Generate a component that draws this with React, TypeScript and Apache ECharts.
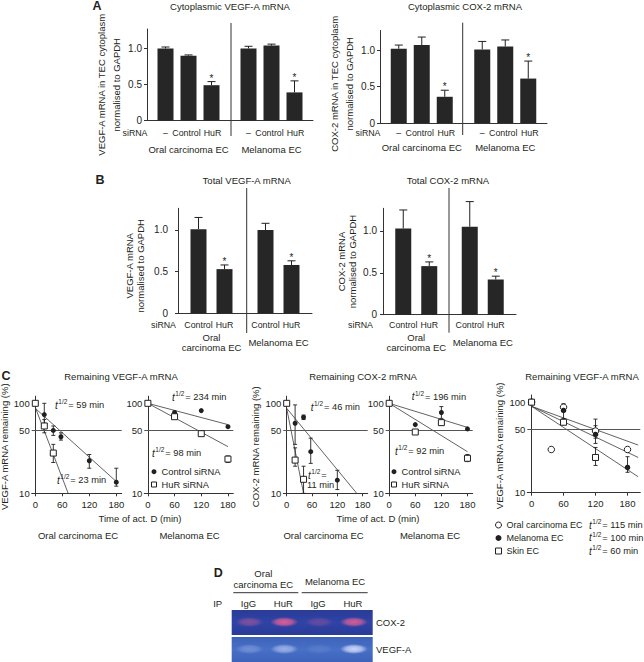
import React, { useEffect, useRef } from 'react';
import * as echarts from 'echarts';

const FONT = '"Liberation Sans", Arial, Helvetica, sans-serif';
const INK = '#231f20';
const AXIS = '#333333';
const BAR = '#262626';

// ---------- Panel A: cytoplasmic mRNA (siRNA condition x cell type)
const aGroups = ['Oral carcinoma EC', 'Melanoma EC'];
const aConditions = ['–', 'Control', 'HuR'];
const aVegfMean = [[1.0, 1.0], [0.9, 1.04], [0.49, 0.39]];
const aVegfErr = [[0.02, 0.03], [0.01, 0.02], [0.05, 0.16]];
const aCoxMean = [[1.02, 1.01], [1.07, 1.05], [0.36, 0.61]];
const aCoxErr = [[0.05, 0.11], [0.11, 0.09], [0.09, 0.24]];
const aStar = [[0, 0], [0, 0], [1, 1]];
const barTicks = [0, 0.5, 1.0];

// ---------- Panel B: total mRNA
const bGroups = ['Oral\ncarcinoma EC', 'Melanoma EC'];
const bConditions = ['Control', 'HuR'];
const bVegfMean = [[1.01, 1.0], [0.53, 0.58]];
const bVegfErr = [[0.14, 0.08], [0.05, 0.05]];
const bCoxMean = [[1.03, 1.05], [0.58, 0.42]];
const bCoxErr = [[0.22, 0.3], [0.05, 0.04]];
const bStar = [[0, 0], [1, 1]];

// ---------- Panel C: decay curves, [time (min), % remaining, lower, upper]
const timeTicks = [0, 60, 120, 180];
const pctTicks = [10, 50, 100];

const vegfOralControl = [[0, 100], [20, 75, 60, 100], [40, 50, 44, 56], [57, 42.5, 39, 47], [120, 23, 19, 27], [180, 13.3, 12, 19]];
const vegfOralHuR = [[0, 100], [20, 56, 47, 66], [40, 28, 22, 35]];
const vegfOralControlFit = [[0, 88], [180, 13.5]];
const vegfOralHuRFit = [[0, 90], [73, 10]];
const vegfOralHalfLife = ['59', '23'];

const vegfMelControl = [[0, 100], [60, 79], [120, 83], [180, 55]];
const vegfMelHuR = [[0, 100], [60, 71], [120, 46], [180, 24, 22, 26]];
const vegfMelControlFit = [[0, 100], [180, 58]];
const vegfMelHuRFit = [[0, 100], [180, 33]];
const vegfMelHalfLife = ['234', '98'];

const coxOralControl = [[0, 100], [20, 60, 35, 96], [40, 70, 66, 74], [57, 29, 21.5, 41], [120, 14, 11, 18]];
const coxOralHuR = [[0, 100], [20, 23.4, 20, 32], [40, 14.3, 10, 20]];
const coxOralControlFit = [[0, 88], [166, 10]];
const coxOralHuRFit = [[0, 88], [40, 10]];
const coxOralHalfLife = ['46', '11'];

const coxMelControl = [[0, 100], [60, 58], [120, 79, 68, 92], [180, 52]];
const coxMelHuR = [[0, 100], [60, 48], [120, 61], [180, 24.5, 22.5, 27]];
const coxMelControlFit = [[0, 100], [180, 54]];
const coxMelHuRFit = [[0, 100], [180, 29]];
const coxMelHalfLife = ['196', '92'];

const ecNames = ['Oral carcinoma EC', 'Melanoma EC', 'Skin EC'];
const ecOral = [[0, 100], [37, 30], [60, 88, 80, 96], [120, 48, 40, 65], [180, 30]];
const ecMel = [[0, 100], [60, 81, 66, 90], [120, 44, 35, 55], [180, 19, 16.8, 25]];
const ecSkin = [[0, 100], [60, 60], [120, 24.5, 20, 31.6]];
const ecOralFit = [[0, 90], [200, 33.6]];
const ecMelFit = [[0, 90], [200, 24.5]];
const ecSkinFit = [[0, 90], [200, 15]];
const ecHalfLife = ['115', '100', '60'];

// ---------- Panel D: RNA-IP gel
const gelLanes = ['IgG', 'HuR', 'IgG', 'HuR'];
const gelTargets = ['COX-2', 'VEGF-A'];
const cox2BandStrength = [0.45, 0.95, 0.3, 0.9];
const vegfBandStrength = [0.3, 0.6, 0.12, 0.95];

function buildOption() {
  const grid: any[] = [];
  const xAxis: any[] = [];
  const yAxis: any[] = [];
  const series: any[] = [];
  const G: any[] = [];

  const lblStyle = { fontFamily: FONT, color: INK };
  const mkGrid = (p: any) => ({ left: p.left, top: p.top, width: p.width, height: p.height, containLabel: false, outerBoundsMode: 'none' });

  function addBarPanel(p: any) {
    const idx = grid.length;
    grid.push(mkGrid(p));
    xAxis.push({
      type: 'category', gridIndex: idx, data: p.groups,
      axisLine: { lineStyle: { color: AXIS, width: 1 } },
      axisTick: { show: false },
      axisLabel: { ...lblStyle, interval: 0, fontSize: 9.5, margin: p.groupMargin, verticalAlign: 'middle', lineHeight: 10.5 },
    });
    yAxis.push({
      type: 'value', gridIndex: idx, min: 0, max: p.max,
      axisLine: { show: true, lineStyle: { color: AXIS, width: 1 } },
      axisTick: { show: true, length: 3, customValues: barTicks, lineStyle: { color: AXIS } },
      splitLine: { show: false },
      axisLabel: { ...lblStyle, fontSize: 10, margin: p.labelMargin, customValues: barTicks, formatter: (v: number) => (v === 0 ? '0' : v.toFixed(1)) },
      name: p.yName, nameLocation: 'middle', nameRotate: 90, nameGap: p.nameGap,
      nameTextStyle: { ...lblStyle, fontSize: 9.5, lineHeight: p.nameLH, padding: [0, p.nameShift || 0, 0, 0] },
    });
    const n = p.conds.length;
    p.conds.forEach((c: string, k: number) => {
      const dx = (k - (n - 1) / 2) * p.pitch;
      series.push({
        type: 'bar', name: c, xAxisIndex: idx, yAxisIndex: idx, silent: true,
        data: p.means[k], barWidth: 16, barGap: p.barGap,
        itemStyle: { color: BAR },
        label: {
          show: true, position: 'bottom', distance: p.condDist, formatter: c, ...lblStyle,
          fontSize: 8.8, lineHeight: 12, offset: [(p.condShift && p.condShift[k]) || 0, 0],
        },
      });
      series.push({
        type: 'custom', xAxisIndex: idx, yAxisIndex: idx, z: 4, silent: true, clip: false,
        itemStyle: { color: INK },
        encode: { x: 0, y: 1 },
        data: p.means[k].map((m: number, g: number) => [g, m, p.errs[k][g]]),
        renderItem: (_params: any, api: any) => {
          const g = api.value(0);
          const m = api.value(1);
          const e = api.value(2);
          const b = api.coord([g, m]);
          const t = api.coord([g, m + e]);
          const x = b[0] + dx;
          const st = { stroke: INK, lineWidth: 1 };
          return {
            type: 'group', children: [
              { type: 'line', shape: { x1: x, y1: b[1], x2: x, y2: t[1] }, style: st },
              { type: 'line', shape: { x1: x - 4, y1: t[1], x2: x + 4, y2: t[1] }, style: st },
            ],
          };
        },
      });
      // significance asterisks above the error bars
      const starData = p.means[k]
        .map((m: number, g: number) => (p.stars[k][g] ? [g, m + p.errs[k][g]] : null))
        .filter((d: any) => d);
      if (starData.length) {
        series.push({
          type: 'scatter', xAxisIndex: idx, yAxisIndex: idx, z: 6, silent: true,
          data: starData, symbol: 'circle', symbolSize: 1,
          itemStyle: { color: 'rgba(0,0,0,0)' },
          label: { show: true, position: 'top', distance: 0, formatter: '*', color: INK, opacity: 1, fontFamily: FONT, fontSize: 10, lineHeight: 10, offset: [dx, 2] },
        });
      }
    });
  }

  addBarPanel({ left: 147, top: 29, width: 166, height: 91.5, max: 1.27, labelMargin: 5, nameGap: 22, nameLH: 15, nameShift: 20, groupMargin: 28.8, condDist: 6.8, barGap: '43.75%', pitch: 23, condShift: [0, -2, 1],
    yName: 'VEGF-A mRNA in TEC cytoplasm\nnormalised to GAPDH', groups: aGroups, conds: aConditions, means: aVegfMean, errs: aVegfErr, stars: aStar });
  addBarPanel({ left: 380, top: 30.5, width: 167, height: 92.5, max: 1.27, labelMargin: 5, nameGap: 16, nameLH: 15, nameShift: 14, groupMargin: 24.7, condDist: 4.3, barGap: '43.75%', pitch: 23, condShift: [0, -2, 1.5],
    yName: 'COX-2 mRNA in TEC cytoplasm\nnormalised to GAPDH', groups: aGroups, conds: aConditions, means: aCoxMean, errs: aCoxErr, stars: aStar });
  addBarPanel({ left: 178, top: 208.3, width: 134, height: 105, max: 1.26, labelMargin: 10, nameGap: 32, nameLH: 11, nameShift: 10, groupMargin: 29.4, condDist: 5.7, barGap: '62.5%', pitch: 26,
    yName: 'VEGF-A mRNA\nnormalised to GAPDH', groups: bGroups, conds: bConditions, means: bVegfMean, errs: bVegfErr, stars: bStar });
  addBarPanel({ left: 383, top: 208.3, width: 133, height: 106.4, max: 1.27, labelMargin: 6, nameGap: 25, nameLH: 11, groupMargin: 28, condDist: 4.3, barGap: '62.5%', pitch: 26,
    yName: 'COX-2 mRNA\nnormalised to GAPDH', groups: bGroups, conds: bConditions, means: bCoxMean, errs: bCoxErr, stars: bStar });

  // ---------- log panels
  const ctrl = (data: number[][]) => ({ name: 'Control siRNA', data, symbol: 'circle', size: 5, fill: INK });
  const hur = (data: number[][]) => ({ name: 'HuR siRNA', data, symbol: 'rect', size: 6, fill: '#ffffff' });

  function addLogPanel(p: any) {
    const idx = grid.length;
    grid.push(mkGrid(p));
    xAxis.push({
      type: 'value', gridIndex: idx, min: -8, max: p.xMax,
      axisLine: { show: true, lineStyle: { color: AXIS, width: 1 } },
      axisTick: { show: true, length: 3, customValues: timeTicks, lineStyle: { color: AXIS } },
      splitLine: { show: false },
      axisLabel: { ...lblStyle, fontSize: 9.5, margin: 6, customValues: timeTicks },
    });
    yAxis.push({
      type: 'log', logBase: 10, gridIndex: idx, min: 10, max: 120,
      axisLine: { show: true, lineStyle: { color: AXIS, width: 1 } },
      axisTick: { show: true, inside: true, length: 3, customValues: pctTicks, lineStyle: { color: AXIS } },
      minorTick: { show: false },
      splitLine: { show: false },
      axisLabel: { ...lblStyle, fontSize: 9.5, margin: 2, customValues: pctTicks, formatter: (v: number) => String(Math.round(v)) },
      name: p.yName || '', nameLocation: 'middle', nameRotate: 90, nameGap: p.nameGap || 20,
      nameTextStyle: { ...lblStyle, fontSize: 9.5, padding: [0, 4, 0, 0] },
    });
    p.fits.forEach((f: number[][], i: number) => {
      series.push({
        type: 'line', xAxisIndex: idx, yAxisIndex: idx, data: f, symbol: 'none', silent: true, z: 2,
        lineStyle: { color: '#3a3a3a', width: 0.8 },
        markLine: i === 0 ? { silent: true, symbol: 'none', label: { show: false }, lineStyle: { color: '#555', width: 1, type: 'solid' }, data: [{ yAxis: 50 }] } : undefined,
      });
    });
    p.sets.forEach((s: any) => {
      series.push({
        type: 'custom', xAxisIndex: idx, yAxisIndex: idx, z: 3, silent: true, clip: false,
        itemStyle: { color: INK },
        encode: { x: 0, y: [1, 2] },
        data: s.data.filter((d: number[]) => d.length > 2).map((d: number[]) => [d[0], d[2], d[3]]),
        renderItem: (_params: any, api: any) => {
          const lo = api.coord([api.value(0), api.value(1)]);
          const hi = api.coord([api.value(0), api.value(2)]);
          const x = lo[0];
          const st = { stroke: INK, lineWidth: 0.9 };
          return {
            type: 'group', children: [
              { type: 'line', shape: { x1: x, y1: lo[1], x2: x, y2: hi[1] }, style: st },
              { type: 'line', shape: { x1: x - 2, y1: lo[1], x2: x + 2, y2: lo[1] }, style: st },
              { type: 'line', shape: { x1: x - 2, y1: hi[1], x2: x + 2, y2: hi[1] }, style: st },
            ],
          };
        },
      });
      series.push({
        type: 'scatter', name: s.name, xAxisIndex: idx, yAxisIndex: idx, z: 5, silent: true,
        data: s.data.map((d: number[]) => [d[0], d[1]]),
        symbol: s.symbol, symbolSize: s.size,
        itemStyle: { color: s.fill, borderColor: INK, borderWidth: s.fill === INK ? 0 : 1, opacity: 1 },
      });
    });
  }

  addLogPanel({ left: 31.7, top: 396.2, width: 90, height: 97.1, xMax: 192, yName: 'VEGF-A mRNA remaining (%)', nameGap: 18,
    sets: [ctrl(vegfOralControl), hur(vegfOralHuR)], fits: [vegfOralControlFit, vegfOralHuRFit] });
  addLogPanel({ left: 144.3, top: 396.2, width: 89, height: 97.1, xMax: 192,
    sets: [ctrl(vegfMelControl), hur(vegfMelHuR)], fits: [vegfMelControlFit, vegfMelHuRFit] });
  addLogPanel({ left: 283.3, top: 396.2, width: 84.4, height: 97.1, xMax: 192, yName: 'COX-2 mRNA remaining (%)', nameGap: 23,
    sets: [ctrl(coxOralControl), hur(coxOralHuR)], fits: [coxOralControlFit, coxOralHuRFit] });
  addLogPanel({ left: 385.7, top: 396.2, width: 87, height: 97.1, xMax: 192,
    sets: [ctrl(coxMelControl), hur(coxMelHuR)], fits: [coxMelControlFit, coxMelHuRFit] });
  addLogPanel({ left: 527.3, top: 395, width: 113, height: 97.7, xMax: 204, yName: 'VEGF-A mRNA remaining (%)', nameGap: 23,
    sets: [
      { name: ecNames[0], data: ecOral, symbol: 'circle', size: 6.5, fill: '#ffffff' },
      { name: ecNames[1], data: ecMel, symbol: 'circle', size: 5.5, fill: INK },
      { name: ecNames[2], data: ecSkin, symbol: 'rect', size: 6, fill: '#ffffff' },
    ],
    fits: [ecOralFit, ecMelFit, ecSkinFit] });

  // ---------- graphic texts
  const txt = (x: number, y: number, text: string, o: any = {}) => {
    const align = o.align || 'left';
    G.push({
      type: 'text', x, y, silent: true, z: 10,
      style: {
        text, fill: INK, font: `${o.bold ? 'bold ' : ''}${o.size || 9.5}px ${FONT}`,
        textAlign: align, align, textVerticalAlign: 'middle', verticalAlign: 'middle',
        lineHeight: o.lh,
      },
    });
  };
  const vline = (x: number, y1: number, y2: number) => G.push({ type: 'line', silent: true, shape: { x1: x, y1, x2: x, y2 }, style: { stroke: AXIS, lineWidth: 1 } });
  const halfLife = (x: number, y: number, v: string, suffix = ' min') => {
    G.push({
      type: 'text', x, y, silent: true, z: 10,
      style: {
        text: `{i|t}{s|1/2}{n|= ${v}${suffix}}`,
        textVerticalAlign: 'middle', verticalAlign: 'middle',
        rich: {
          i: { fontStyle: 'italic', fontSize: 10, fontFamily: FONT, fill: INK, color: INK, lineHeight: 14 },
          s: { fontSize: 6.5, fontFamily: FONT, fill: INK, color: INK, lineHeight: 8, verticalAlign: 'top', padding: [0, 1, 0, 0.5] },
          n: { fontSize: 9.3, fontFamily: FONT, fill: INK, color: INK, lineHeight: 14 },
        },
      },
    });
  };

  // panel letters
  txt(97, 6, 'A', { bold: true, size: 12.5, align: 'center' });
  txt(100, 180, 'B', { bold: true, size: 12.5, align: 'center' });
  txt(6, 376, 'C', { bold: true, size: 12.5, align: 'center' });
  txt(218.3, 573.3, 'D', { bold: true, size: 12.5, align: 'center' });

  // titles
  txt(230, 6, 'Cytoplasmic VEGF-A mRNA', { align: 'center' });
  txt(465, 6, 'Cytoplasmic COX-2 mRNA', { align: 'center' });
  txt(246.7, 180, 'Total VEGF-A mRNA', { align: 'center' });
  txt(448, 180, 'Total COX-2 mRNA', { align: 'center' });
  txt(121, 376, 'Remaining VEGF-A mRNA', { align: 'center' });
  txt(363, 376, 'Remaining COX-2 mRNA', { align: 'center' });
  txt(582, 376, 'Remaining VEGF-A mRNA', { align: 'center' });

  // siRNA row headers
  txt(147.5, 133.3, 'siRNA', { align: 'right', size: 8.8 });
  txt(380.5, 133.3, 'siRNA', { align: 'right', size: 8.8 });
  txt(176, 325, 'siRNA', { align: 'right', size: 8.8 });
  txt(373, 325, 'siRNA', { align: 'right', size: 8.8 });

  // group separators
  vline(231, 23, 136);
  vline(462.7, 22.7, 135);
  vline(246.7, 188, 333);
  vline(449, 188, 332.7);

  // panel C annotations
  txt(140, 518.3, 'Time of act. D (min)', { align: 'center' });
  txt(378, 518.3, 'Time of act. D (min)', { align: 'center' });
  txt(78, 535, 'Oral carcinoma EC', { align: 'center' });
  txt(189.5, 535, 'Melanoma EC', { align: 'center' });
  txt(323.5, 535, 'Oral carcinoma EC', { align: 'center' });
  txt(430, 535, 'Melanoma EC', { align: 'center' });

  halfLife(55, 405, vegfOralHalfLife[0]);
  halfLife(57, 480, vegfOralHalfLife[1]);
  halfLife(172, 397, vegfMelHalfLife[0]);
  halfLife(152, 453, vegfMelHalfLife[1]);
  halfLife(310.7, 407, coxOralHalfLife[0]);
  halfLife(308, 475, '', '');
  txt(307, 485, `${coxOralHalfLife[1]} min`, { size: 9.3 });
  halfLife(411.7, 396.7, coxMelHalfLife[0]);
  halfLife(395, 451, coxMelHalfLife[1]);
  halfLife(589, 525, ecHalfLife[0]);
  halfLife(589, 537.7, ecHalfLife[1]);
  halfLife(589, 551, ecHalfLife[2]);

  // ---------- panel D gel
  const gx0 = 231.7;
  const gw = 141;
  const laneX = (i: number) => 248.5 + i * 34.8;
  txt(263.3, 579, 'Oral\ncarcinoma EC', { align: 'center', lh: 10.5 });
  txt(335, 581.7, 'Melanoma EC', { align: 'center' });
  G.push({ type: 'line', silent: true, shape: { x1: 233.3, y1: 592.7, x2: 298.3, y2: 592.7 }, style: { stroke: AXIS, lineWidth: 1 } });
  G.push({ type: 'line', silent: true, shape: { x1: 301.7, y1: 592.7, x2: 367.7, y2: 592.7 }, style: { stroke: AXIS, lineWidth: 1 } });
  txt(217.7, 603.3, 'IP', { align: 'center' });
  gelLanes.forEach((l, i) => txt(laneX(i), 603.3, l, { align: 'center' }));

  const rows = [
    { y: 610, h: 25, bg: ['#2a3b98', '#2f44a6'], band: [228, 95, 150], strength: cox2BandStrength, label: gelTargets[0] },
    { y: 637, h: 25, bg: ['#3d62ba', '#4870c6'], band: [210, 218, 250], strength: vegfBandStrength, label: gelTargets[1] },
  ];
  rows.forEach((r) => {
    G.push({
      type: 'rect', silent: true, shape: { x: gx0, y: r.y, width: gw, height: r.h },
      style: { fill: new echarts.graphic.LinearGradient(0, 0, 0, 1, [{ offset: 0, color: r.bg[0] }, { offset: 0.5, color: r.bg[1] }, { offset: 1, color: r.bg[0] }]) },
    });
    r.strength.forEach((s, i) => {
      const [cr, cg, cb] = r.band;
      G.push({
        type: 'ellipse', silent: true,
        shape: { cx: laneX(i) + 1, cy: r.y + r.h / 2 - 0.5, rx: 14, ry: 5 },
        style: {
          fill: new echarts.graphic.RadialGradient(0.5, 0.5, 0.5, [
            { offset: 0, color: `rgba(${cr},${cg},${cb},${s})` },
            { offset: 0.55, color: `rgba(${cr},${cg},${cb},${s * 0.75})` },
            { offset: 1, color: `rgba(${cr},${cg},${cb},0)` },
          ]),
        },
      });
    });
    txt(376, r.y + r.h / 2, r.label);
  });

  const legendCommon = {
    orient: 'vertical', itemGap: 0, itemWidth: 5, itemHeight: 5, padding: 0, selectedMode: false,
    textStyle: { ...lblStyle, fontSize: 9.3, lineHeight: 12.8 },
  };
  const hollow = { color: '#ffffff', borderColor: INK, borderWidth: 1 };
  const solid = { color: INK, borderWidth: 0 };
  const legend = [
    { ...legendCommon, left: 151, top: 465.3, data: [{ name: 'Control siRNA', icon: 'circle', itemStyle: solid }, { name: 'HuR siRNA', icon: 'rect', itemStyle: hollow }] },
    { ...legendCommon, left: 391, top: 465.3, data: [{ name: 'Control siRNA', icon: 'circle', itemStyle: solid }, { name: 'HuR siRNA', icon: 'rect', itemStyle: hollow }] },
    { ...legendCommon, left: 495, top: 518.5, itemWidth: 6, itemHeight: 6, textStyle: { ...lblStyle, fontSize: 9, lineHeight: 13 },
      data: [{ name: ecNames[0], icon: 'circle', itemStyle: hollow }, { name: ecNames[1], icon: 'circle', itemStyle: solid }, { name: ecNames[2], icon: 'rect', itemStyle: hollow }] },
  ];

  return {
    animation: false,
    backgroundColor: '#ffffff',
    textStyle: { fontFamily: FONT },
    grid, xAxis, yAxis, series, legend,
    graphic: { elements: G },
  };
}

export default function App() {
  const ref = useRef<HTMLDivElement>(null);
  useEffect(() => {
    document.body.style.margin = '0';
    const chart = echarts.init(ref.current as HTMLDivElement, null, { renderer: 'svg' });
    chart.setOption(buildOption() as any);
    return () => chart.dispose();
  }, []);
  return <div ref={ref} style={{ width: 644, height: 662 }} />;
}
